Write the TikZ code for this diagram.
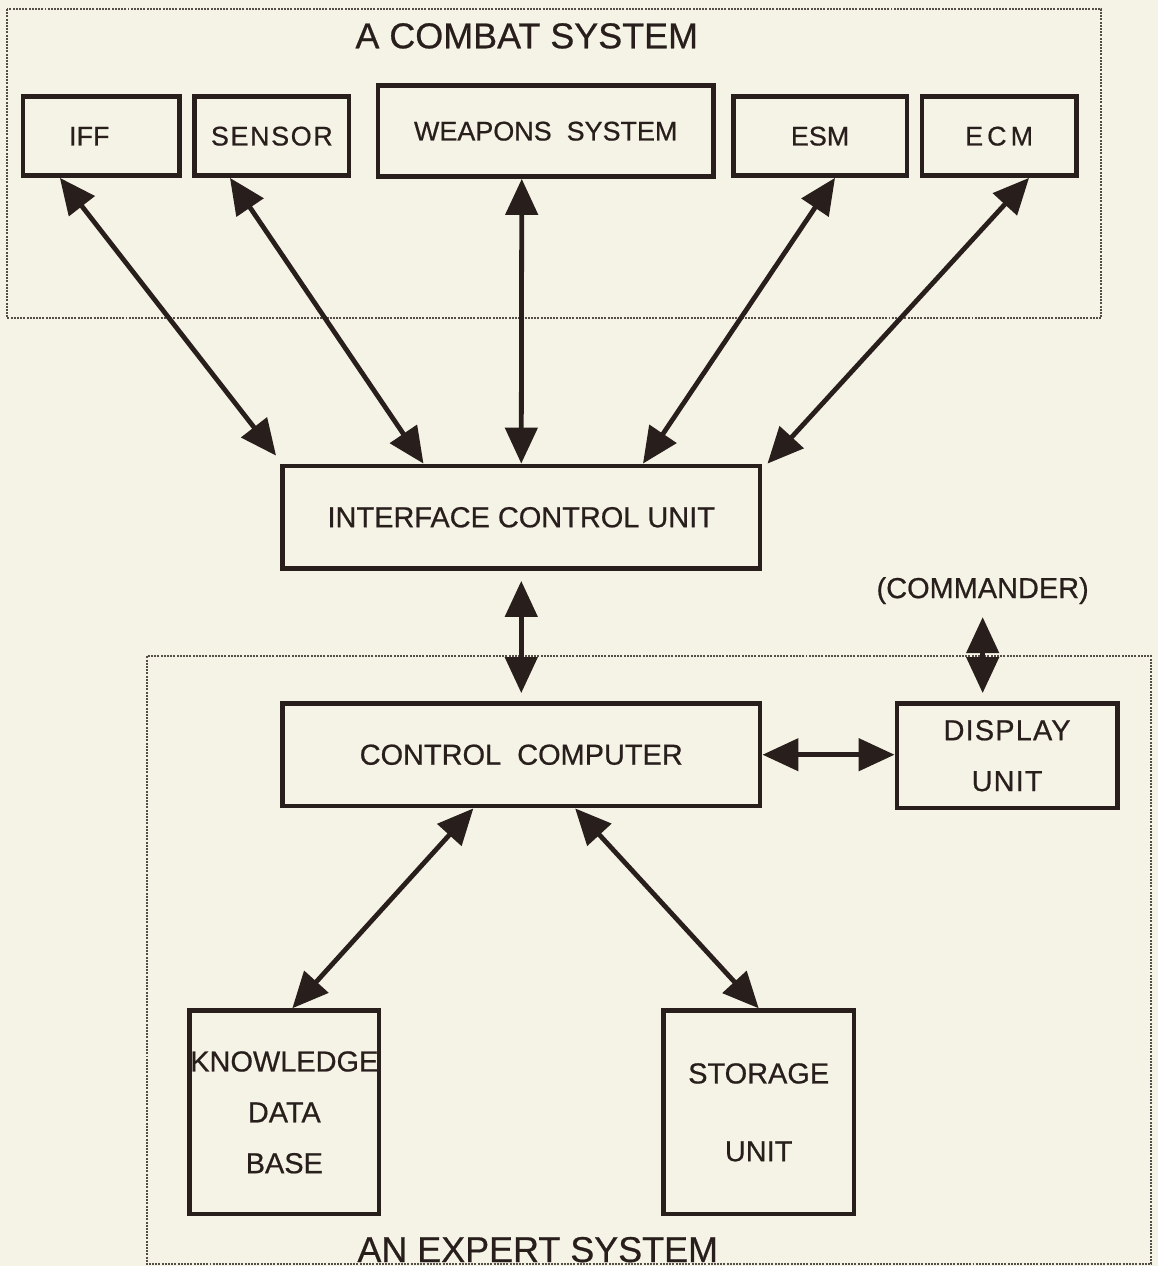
\documentclass[tikz,border=0pt]{standalone}
\usepackage{fontspec}
\setmainfont{Liberation Sans}[FakeBold=0.6]
\usetikzlibrary{arrows.meta}

\definecolor{paper}{RGB}{245,243,230}
\definecolor{ink}{RGB}{40,30,28}
\definecolor{frameline}{RGB}{85,78,72}

\tikzset{
  unit/.style={draw=ink, text=ink, line width=2.3pt, inner sep=0pt, align=center,
    font=\fontsize{14.5}{25.5}\selectfont},
  toprow/.style={unit, minimum height=39.5pt, font=\fontsize{13.5}{16}\selectfont},
  link/.style={{Triangle[length=18pt,width=16pt]}-{Triangle[length=18pt,width=16pt]},
    draw=ink, line width=2.4pt},
  group/.style={draw=frameline, line width=1pt, dash pattern=on 1pt off 0.6pt},
  heading/.style={text=ink, font=\fontsize{18}{20}\selectfont},
}

\begin{document}
\begin{tikzpicture}[x=0.5pt,y=-0.5pt]
  \fill[paper] (0,0) rectangle (1161,1269);

  % the combat system
  \draw[group] (7,9) rectangle (1104,319);
  \node[heading] (combat) at (528,36) {A COMBAT SYSTEM};

  \node[toprow, minimum width=78.5pt] (iff) at (101.5,136.5) {IFF\hspace{12pt}};
  \node[toprow, minimum width=77.5pt] (sensor) at (272.5,136.5) {\addfontfeature{LetterSpace=6}SENSOR};
  \node[toprow, minimum width=168pt, minimum height=45.5pt] (weapons) at (547,131.5) {WEAPONS\ \ SYSTEM};
  \node[toprow, minimum width=87pt] (esm) at (822,136.5) {ESM};
  \node[toprow, minimum width=77.5pt] (ecm) at (1001.5,136.5) {\addfontfeature{LetterSpace=15}ECM};

  \node[unit, minimum width=239.5pt, minimum height=51.5pt] (icu) at (522.5,518.5) {INTERFACE CONTROL UNIT};

  % the expert system
  \draw[group] (147,658) rectangle (1154,1267);
  \node[heading, anchor=base] (expert) at (539,1265) {AN EXPERT SYSTEM};

  \node[unit, minimum width=239.5pt, minimum height=51.5pt] (cc) at (522.5,756.5) {CONTROL\ \ COMPUTER};
  \node[unit, minimum width=110.5pt, minimum height=52.5pt] (disp) at (1009.5,757.5) {\addfontfeature{LetterSpace=4}DISPLAY\\\addfontfeature{LetterSpace=4}UNIT};
  \node[text=ink, font=\fontsize{14.5}{16}\selectfont] (cmd) at (985,592) {(COMMANDER)};

  \node[unit, minimum width=95pt, minimum height=102pt] (kb) at (285,1115) {KNOWLEDGE\\DATA\\BASE};
  \node[unit, minimum width=95.5pt, minimum height=102pt] (store) at (760.5,1115) {STORAGE\\[13.5pt]UNIT};

  % links
  \draw[link] ([xshift=-20.75pt]iff.south) -- ([xshift=-2pt,yshift=4pt]icu.north west);
  \draw[link] ([xshift=-21pt]sensor.south) -- ([xshift=-49pt]icu.north);
  \draw[link] ([xshift=-12pt]weapons.south) -- (icu.north);
  \draw[link] ([xshift=7.5pt]esm.south) -- ([xshift=61pt]icu.north);
  \draw[link] ([xshift=15pt]ecm.south) -- ([xshift=2.5pt]icu.north east);

  \draw[link, shorten <=5pt, shorten >=4pt] (icu.south) -- (cc.north);
  \draw[link, shorten <=3pt, shorten >=4pt] (cmd.south) -- (cmd.south |- disp.north);
  \draw[link] (cc.east) -- (cc.east -| disp.west);

  \draw[link] ([xshift=-24pt]cc.south) -- ([xshift=4pt]kb.north);
  \draw[link] ([xshift=27pt]cc.south) -- (store.north);
\end{tikzpicture}
\end{document}
